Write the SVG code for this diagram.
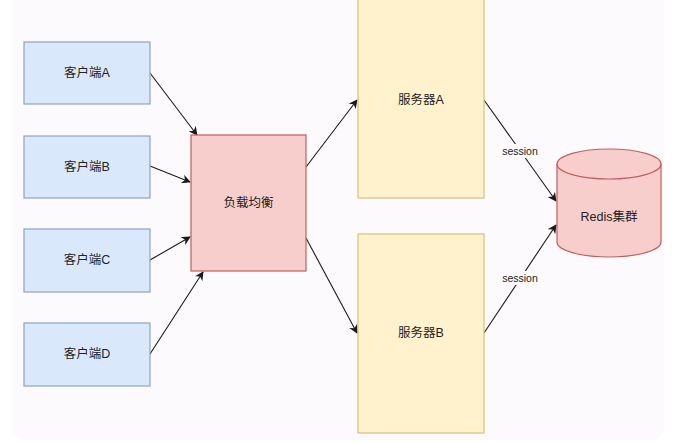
<svg xmlns="http://www.w3.org/2000/svg" width="673" height="443" viewBox="0 0 673 443">
  <defs>
    <marker id="arrow" viewBox="0 0 10 10" refX="9" refY="5" markerWidth="9" markerHeight="9" markerUnits="userSpaceOnUse" orient="auto">
      <path d="M0,0 L10,5 L0,10 L3,5 Z" fill="#1a1a1a"/>
    </marker>
  </defs>
  <style>
    text { font-family: "Liberation Sans", "Noto Sans CJK SC", sans-serif; font-size: 12.5px; fill: #222; text-anchor: middle; dominant-baseline: central; }
    .client { fill: #dae8fc; stroke: #8ea4c4; stroke-width: 1.2; }
    .lb { fill: #f8cecc; stroke: #c0605c; stroke-width: 1.2; }
    .server { fill: #fff2cc; stroke: #d9c07a; stroke-width: 1.2; }
    .db { fill: #f8cecc; stroke: #c0605c; stroke-width: 1.2; }
    .edge { stroke: #1a1a1a; stroke-width: 1.1; fill: none; marker-end: url(#arrow); }
    .label { font-size: 10.5px; }
  </style>

  <!-- canvas -->
  <rect width="673" height="443" fill="#ffffff"/>
  <rect x="12" y="-20" width="653" height="460" rx="14" fill="#fdfafd"/>

  <g id="connectors">
    <line class="edge" x1="150" y1="73" x2="197" y2="135"/>
    <line class="edge" x1="150" y1="166" x2="190" y2="182"/>
    <line class="edge" x1="150" y1="260" x2="190" y2="237"/>
    <line class="edge" x1="150" y1="354" x2="203" y2="272"/>
    <line class="edge" x1="306" y1="167" x2="357" y2="100"/>
    <line class="edge" x1="306" y1="238" x2="357" y2="333"/>
    <line class="edge" x1="484" y1="100" x2="556" y2="201"/>
    <line class="edge" x1="484" y1="333" x2="556" y2="225"/>
    <rect x="498" y="144" width="44" height="14" fill="#fdfafd"/>
    <text class="label" x="520" y="151">session</text>
    <rect x="498" y="271" width="44" height="14" fill="#fdfafd"/>
    <text class="label" x="520" y="278">session</text>
  </g>

  <g id="client-a">
    <rect class="client" x="24" y="42" width="126" height="62"/>
    <text x="87" y="73">客户端A</text>
  </g>
  <g id="client-b">
    <rect class="client" x="24" y="136" width="126" height="62"/>
    <text x="87" y="167">客户端B</text>
  </g>
  <g id="client-c">
    <rect class="client" x="24" y="229" width="126" height="63"/>
    <text x="87" y="260">客户端C</text>
  </g>
  <g id="client-d">
    <rect class="client" x="24" y="323" width="126" height="63"/>
    <text x="87" y="354">客户端D</text>
  </g>

  <g id="load-balancer">
    <rect class="lb" x="191" y="135" width="115" height="136"/>
    <text x="248.5" y="203">负载均衡</text>
  </g>

  <g id="server-a">
    <rect class="server" x="358" y="-1" width="126" height="199"/>
    <text x="421" y="100">服务器A</text>
  </g>
  <g id="server-b">
    <rect class="server" x="358" y="234" width="126" height="199"/>
    <text x="421" y="333">服务器B</text>
  </g>

  <g id="redis">
    <path class="db" d="M557,164 A52,15 0 0 1 661,164 L661,242 A52,15 0 0 1 557,242 Z"/>
    <path class="db" d="M557,164 A52,15 0 0 0 661,164" fill="none"/>
    <text x="609" y="217">Redis集群</text>
  </g>
</svg>
